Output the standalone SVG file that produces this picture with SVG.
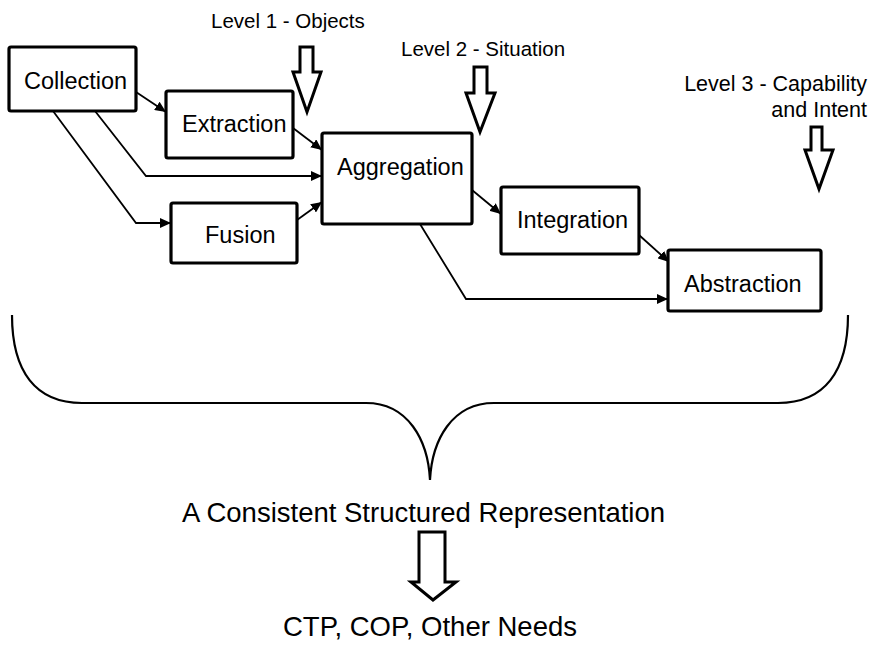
<svg xmlns="http://www.w3.org/2000/svg" width="876" height="648" viewBox="0 0 876 648">
<style>
.box{fill:#fff;stroke:#000;stroke-width:3.2}
.lbl{font-family:"Liberation Sans",Arial,sans-serif;font-size:23.5px;fill:#000}
.lvl{font-family:"Liberation Sans",Arial,sans-serif;font-size:20.5px;fill:#000}
.lvl3{font-family:"Liberation Sans",Arial,sans-serif;font-size:21.5px;fill:#000}
.big{font-family:"Liberation Sans",Arial,sans-serif;font-size:27.5px;fill:#000}
.con{fill:none;stroke:#000;stroke-width:1.8;stroke-linejoin:miter}
.blk{fill:#fff;stroke:#000;stroke-width:3;stroke-linejoin:miter}
.brace{fill:none;stroke:#000;stroke-width:2.2}
</style>
<defs>
<marker id="ah" markerUnits="userSpaceOnUse" markerWidth="12" markerHeight="10" refX="11" refY="5" orient="auto">
<path d="M0,0 L11,5 L0,10 z" fill="#000"/>
</marker>
</defs>
<g id="connectors">
<path class="con" d="M136,92 L166,112" marker-end="url(#ah)"/>
<path class="con" d="M293,128 L322,150" marker-end="url(#ah)"/>
<path class="con" d="M95,111 L146,176 L322,176" marker-end="url(#ah)"/>
<path class="con" d="M53,111 L136,223 L171,223" marker-end="url(#ah)"/>
<path class="con" d="M297,220 L322,202" marker-end="url(#ah)"/>
<path class="con" d="M472,190 L501,214" marker-end="url(#ah)"/>
<path class="con" d="M639,235 L669,262" marker-end="url(#ah)"/>
<path class="con" d="M420,224 L466,299 L668,299" marker-end="url(#ah)"/>
</g>
<g id="collection"><rect class="box" x="9" y="47" width="127" height="64" rx="2"/><text class="lbl" x="24" y="89">Collection</text></g>
<g id="extraction"><rect class="box" x="166" y="91" width="127" height="67" rx="2"/><text class="lbl" x="182" y="132">Extraction</text></g>
<g id="fusion"><rect class="box" x="171" y="203" width="126" height="60" rx="2"/><text class="lbl" x="205" y="243">Fusion</text></g>
<g id="aggregation"><rect class="box" x="322" y="133" width="150" height="91" rx="2"/><text class="lbl" x="337" y="175">Aggregation</text></g>
<g id="integration"><rect class="box" x="501" y="187" width="138" height="67" rx="2"/><text class="lbl" x="517" y="228">Integration</text></g>
<g id="abstraction"><rect class="box" x="668" y="250" width="153" height="61" rx="2"/><text class="lbl" x="684" y="292">Abstraction</text></g>
<g id="level1"><text class="lvl" x="211" y="28">Level 1 - Objects</text><polygon class="blk" points="300,47 313,47 313,72 321,72 307,112 293,72 300,72"/></g>
<g id="level2"><text class="lvl" x="401" y="56">Level 2 - Situation</text><polygon class="blk" points="474,67 487,67 487,93 495,93 480,132 466,93 474,93"/></g>
<g id="level3"><text class="lvl3" x="867" y="91" text-anchor="end">Level 3 - Capability</text><text class="lvl3" x="867" y="117" text-anchor="end">and Intent</text><polygon class="blk" points="811,127 822,127 822,150 833,150 819,189 805,150 811,150"/></g>
<g id="brace"><path class="brace" d="M12,315 C12,372 36,403 82,403 L366,403 C408,403 428,440 430,480 C432,440 452,403 494,403 L778,403 C824,403 848,372 848,315"/></g>
<g id="representation"><text class="big" x="182" y="522">A Consistent Structured Representation</text></g>
<g id="outarrow"><polygon class="blk" points="419,532 445,532 445,582 456,582 433,600 411,582 419,582"/></g>
<g id="needs"><text class="big" x="283" y="636">CTP, COP, Other Needs</text></g>
</svg>
